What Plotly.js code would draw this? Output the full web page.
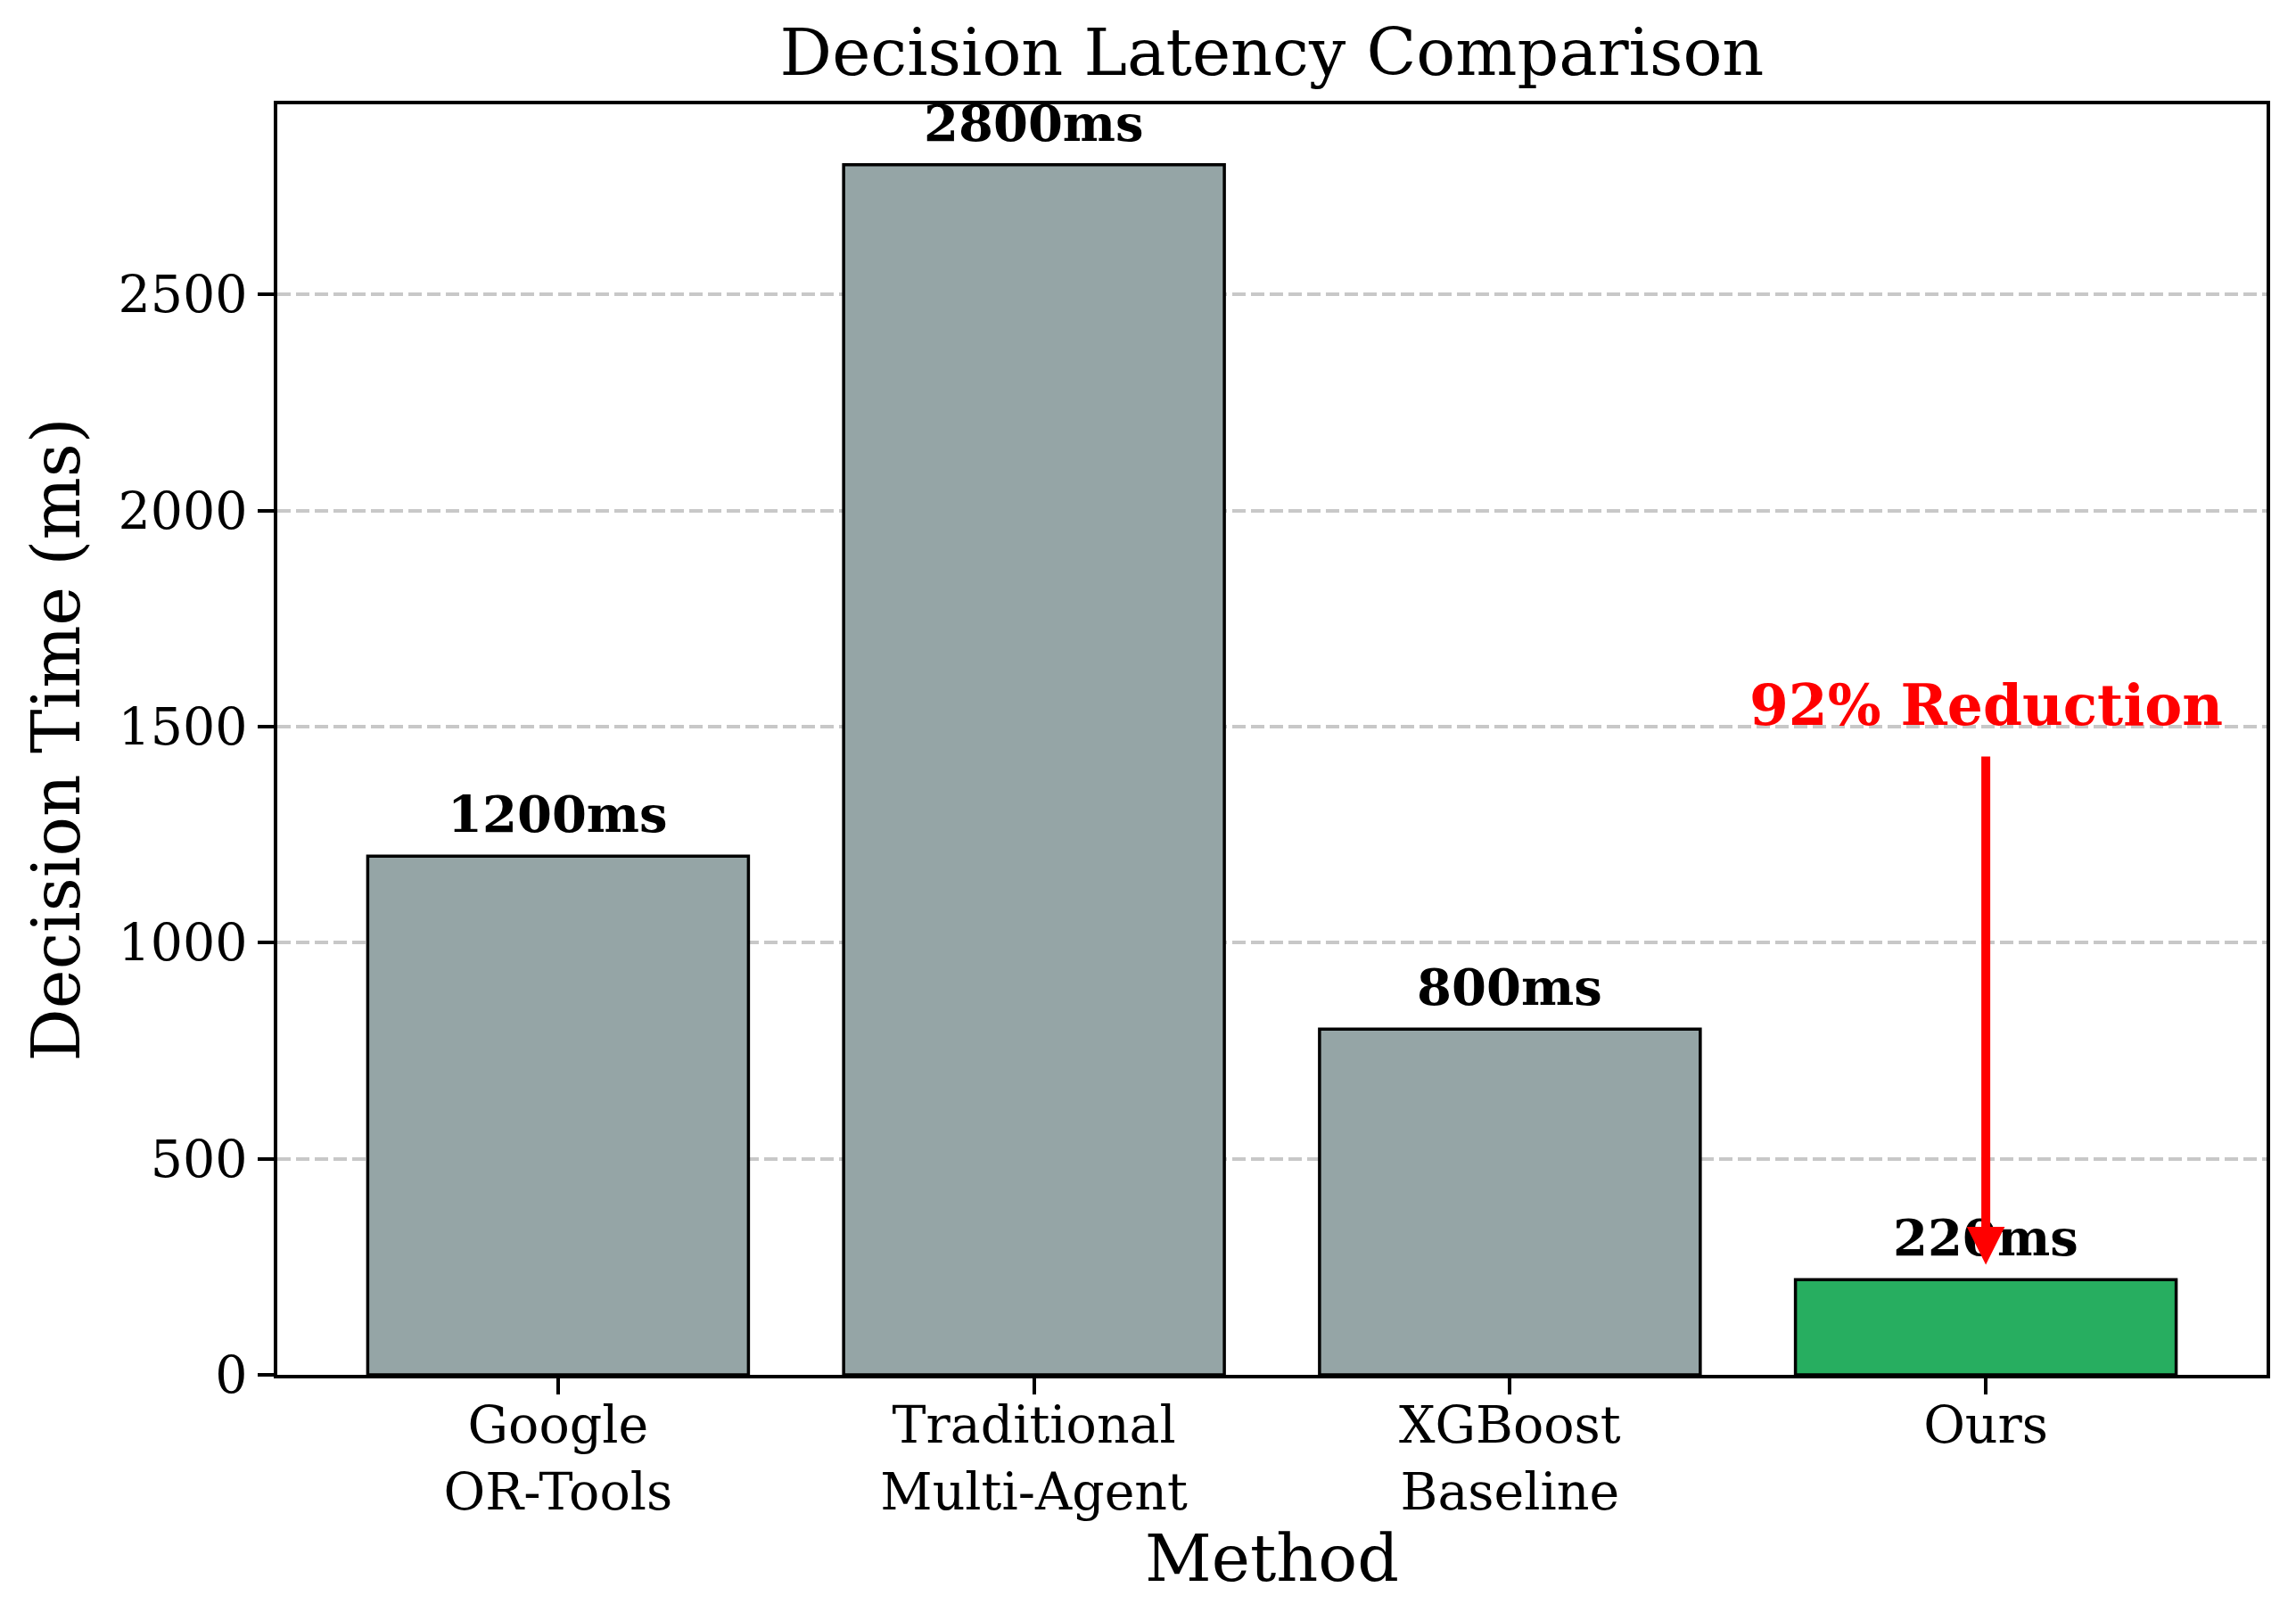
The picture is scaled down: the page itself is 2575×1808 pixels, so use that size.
<!DOCTYPE html>
<html>
<head>
<meta charset="utf-8">
<script src="https://cdn.plot.ly/plotly-3.0.1.min.js"></script>
<style>
  html, body { margin: 0; padding: 0; background: #ffffff; }
  #chart { width: 2575px; height: 1808px; }
</style>
</head>
<body>
<div id="chart"></div>
<script>
// ---- data ----
const categories = ['Google<br>OR-Tools', 'Traditional<br>Multi-Agent', 'XGBoost<br>Baseline', 'Ours'];
const latencyMs = [1200, 2800, 800, 220];
const barColors = ['#95a5a6', '#95a5a6', '#95a5a6', '#27ae60'];
const yTickVals = [0, 500, 1000, 1500, 2000, 2500];
const valueSuffix = 'ms';
const reductionText = '92% Reduction';
const reductionTextY = 1500;     // baseline of the red note (data units)
const labelOffset = 50;          // value labels sit this far above each bar
const arrowTipOffset = 35;       // arrow ends this far above the "Ours" bar
const yMax = 2940;

// ---- styling ----
const FONT = 'DejaVu Serif';
const oursIndex = latencyMs.length - 1;

const bar = {
  type: 'bar',
  x: categories.map((_, i) => i),
  y: latencyMs,
  width: 0.8,
  marker: { color: barColors, line: { color: '#000000', width: 3.5 } },
  hoverinfo: 'skip',
  showlegend: false
};

const annotations = latencyMs.map((v, i) => ({
  x: i, y: v + labelOffset, xref: 'x', yref: 'y',
  text: '<b>' + v + valueSuffix + '</b>',
  showarrow: false,
  xanchor: 'center', yanchor: 'bottom', yshift: -12,
  font: { family: FONT, size: 56, color: '#000000' }
}));

// red note
annotations.push({
  x: oursIndex, y: reductionTextY, xref: 'x', yref: 'y',
  text: '<b>' + reductionText + '</b>',
  showarrow: false,
  xanchor: 'center', yanchor: 'bottom', yshift: -15,
  font: { family: FONT, size: 63, color: '#ff0000' }
});

// red arrow from the note down to the "Ours" bar label
annotations.push({
  x: oursIndex, y: latencyMs[oursIndex] + arrowTipOffset, xref: 'x', yref: 'y',
  ax: oursIndex, ay: reductionTextY, axref: 'x', ayref: 'y',
  text: '', showarrow: true,
  arrowhead: 2, arrowsize: 0.85, arrowwidth: 10, arrowcolor: '#ff0000',
  startstandoff: 32, standoff: 0
});

const layout = {
  width: 2575, height: 1808, autosize: false,
  margin: { l: 311, r: 33, t: 117, b: 266, pad: 0 },
  paper_bgcolor: '#ffffff', plot_bgcolor: '#ffffff',
  font: { family: FONT, color: '#000000' },
  title: {
    text: 'Decision Latency Comparison',
    font: { family: FONT, size: 73, color: '#000000' },
    x: 0.5, xref: 'paper', xanchor: 'center',
    y: 0.9535, yref: 'container', yanchor: 'bottom',
    pad: { t: 0, b: 0, l: 0, r: 0 }
  },
  xaxis: {
    type: 'linear',
    range: [-0.59, 3.59],
    tickmode: 'array',
    tickvals: categories.map((_, i) => i),
    ticktext: categories,
    showline: true, linecolor: '#000000', linewidth: 4, mirror: true,
    ticks: 'outside', ticklen: 18, tickwidth: 4, tickcolor: '#000000',
    ticklabelstandoff: -14,
    tickfont: { family: FONT, size: 57, color: '#000000' },
    showgrid: false, zeroline: false,
    automargin: false,
    title: { text: 'Method', font: { family: FONT, size: 73, color: '#000000' }, standoff: 2 }
  },
  yaxis: {
    range: [0, yMax],
    tickmode: 'array',
    tickvals: yTickVals,
    ticktext: yTickVals.map(String),
    showline: true, linecolor: '#000000', linewidth: 4, mirror: true,
    ticks: 'outside', ticklen: 18, tickwidth: 4, tickcolor: '#000000',
    tickfont: { family: FONT, size: 57, color: '#000000' },
    showgrid: true, gridcolor: '#c8c8c8', gridwidth: 4, griddash: '15px,6px',
    zeroline: false,
    automargin: false,
    title: { text: 'Decision Time (ms)', font: { family: FONT, size: 74, color: '#000000' }, standoff: 20 }
  },
  annotations: annotations,
  bargap: 0.2
};

Plotly.newPlot('chart', [bar], layout, { staticPlot: true, displayModeBar: false });
</script>
</body>
</html>
